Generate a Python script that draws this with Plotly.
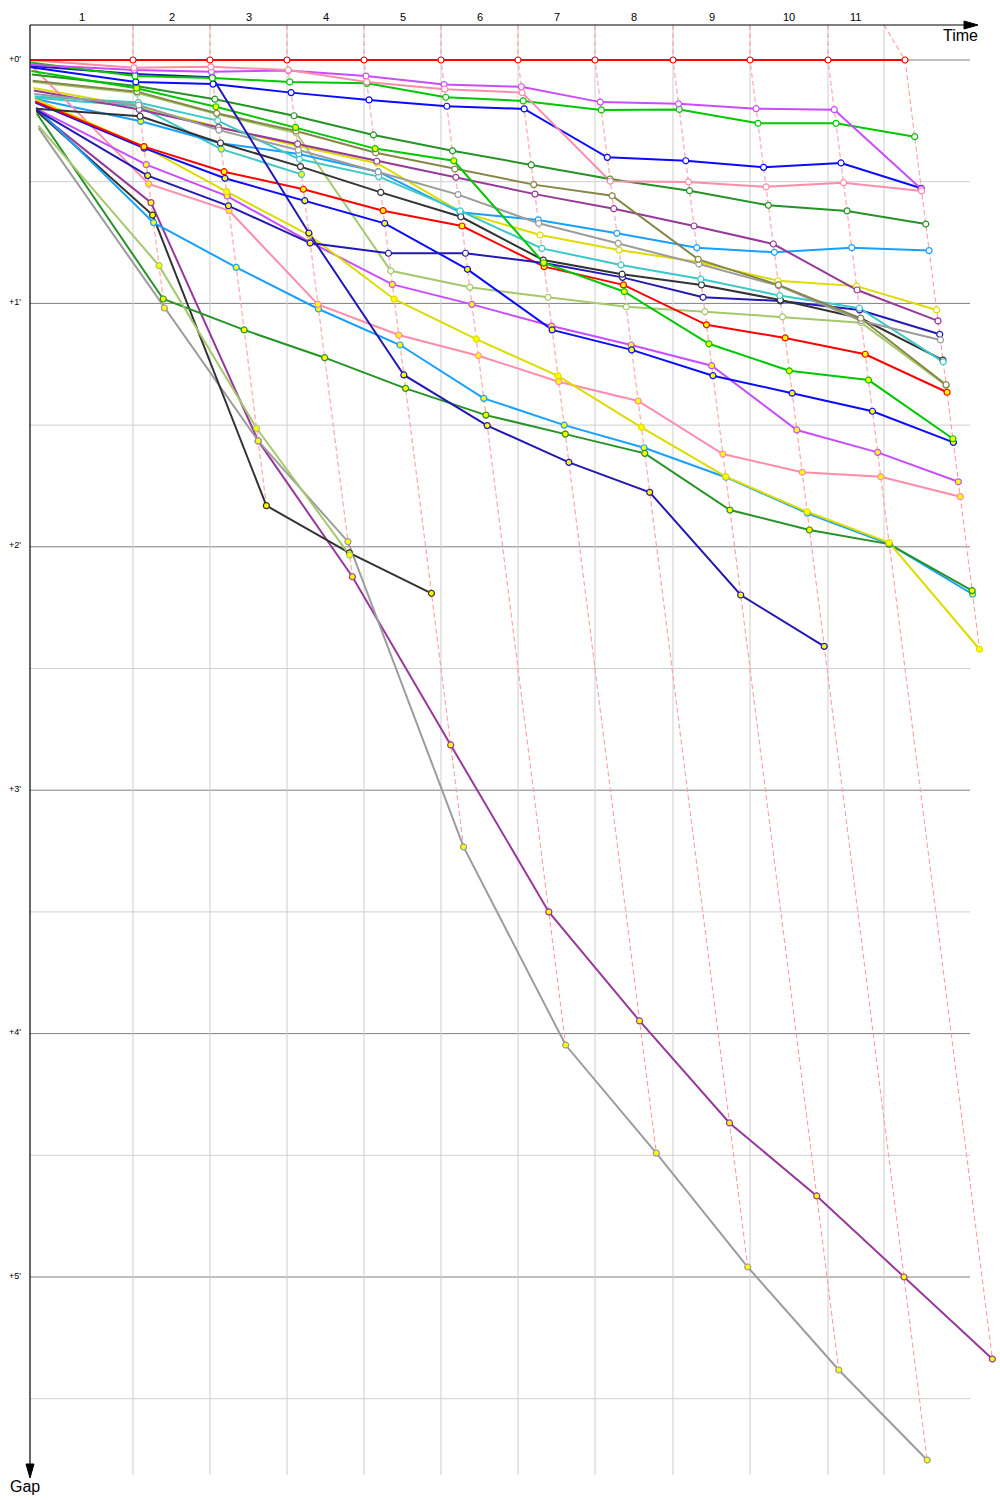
import plotly.graph_objects as go

# ---------------- data ----------------
lap_labels = ["1", "2", "3", "4", "5", "6", "7", "8", "9", "10", "11"]
# leader's elapsed time (minutes) at start and at the end of each lap
leader_lap_times = [0.0, 3.344, 5.844, 8.344, 10.844, 13.344, 15.844, 18.344, 20.877, 23.377, 25.909, 28.409]
# vertical lap lines (minutes)
lap_line_times = [3.344, 5.844, 8.344, 10.844, 13.344, 15.844, 18.344, 20.877, 23.377, 25.909, 27.727]
gap_major = [0, 1, 2, 3, 4, 5]
gap_minor = [0.5, 1.5, 2.5, 3.5, 4.5, 5.5]
gap_tick_labels = ["+0'", "+1'", "+2'", "+3'", "+4'", "+5'"]

# gaps to leader (minutes), start + each completed lap
gap_red_a = [0, 0, 0, 0, 0, 0, 0, 0, 0, 0, 0, 0]
gap_pink_a = [0.0, 0.032, 0.028, 0.041, 0.090, 0.120, 0.134, 0.498, 0.501, 0.521, 0.504, 0.538]
gap_magenta_a = [0.02, 0.041, 0.048, 0.043, 0.066, 0.101, 0.110, 0.173, 0.180, 0.200, 0.204, 0.530]
gap_green_a = [0.01, 0.066, 0.074, 0.090, 0.096, 0.153, 0.168, 0.205, 0.203, 0.260, 0.260, 0.315]
gap_blue_a = [0.03, 0.090, 0.099, 0.134, 0.164, 0.190, 0.201, 0.400, 0.414, 0.441, 0.423, 0.527]
gap_navy_a = [0.025, 0.058, 0.071, 0.711, 1.294, 1.502, 1.653, 1.776, 2.198, 2.409]
gap_green_b = [0.045, 0.116, 0.192, 0.277, 0.364, 0.414, 0.833, 0.952, 1.166, 1.277, 1.315, 1.556]
gap_olive = [0.085, 0.130, 0.219, 0.292, 0.381, 0.448, 0.512, 0.558, 0.819, 0.924, 1.061, 1.334]
gap_gray_a = [0.14, 0.185, 0.288, 0.370, 0.460, 0.553, 0.671, 0.753, 0.838, 0.927, 1.071, 1.150]
gap_cyan_a = [0.15, 0.175, 0.249, 0.408, 0.479, 0.620, 0.774, 0.842, 0.900, 0.968, 1.020, 1.240]
gap_dkgreen_a = [0.06, 0.107, 0.161, 0.229, 0.308, 0.373, 0.431, 0.489, 0.537, 0.597, 0.620, 0.674]
gap_purple_a = [0.125, 0.203, 0.277, 0.345, 0.416, 0.482, 0.551, 0.611, 0.682, 0.756, 0.945, 1.072]
gap_black_a = [0.2, 0.231, 0.341, 0.438, 0.544, 0.644, 0.822, 0.880, 0.924, 0.986, 1.061, 1.233]
gap_navy_b = [0.205, 0.475, 0.599, 0.752, 0.794, 0.794, 0.834, 0.893, 0.975, 0.990, 1.027, 1.127]
gap_red_b = [0.17, 0.356, 0.459, 0.531, 0.619, 0.682, 0.849, 0.924, 1.088, 1.142, 1.209, 1.365]
gap_blue_b = [0.175, 0.362, 0.486, 0.578, 0.671, 0.860, 1.109, 1.191, 1.297, 1.369, 1.443, 1.571]
gap_yellow_a = [0.16, 0.356, 0.541, 0.719, 0.983, 1.147, 1.298, 1.509, 1.712, 1.856, 1.983, 2.421]
gap_magenta_b = [0.2, 0.430, 0.559, 0.748, 0.922, 1.004, 1.093, 1.171, 1.256, 1.520, 1.612, 1.733]
gap_pink_b = [0.02, 0.509, 0.619, 1.004, 1.130, 1.215, 1.322, 1.401, 1.619, 1.694, 1.712, 1.794]
gap_sky_a = [0.16, 0.252, 0.342, 0.386, 0.459, 0.626, 0.657, 0.712, 0.771, 0.790, 0.771, 0.783]
gap_lime_a = [0.09, 0.136, 0.222, 0.300, 0.866, 0.934, 0.975, 1.014, 1.034, 1.055, 1.079, 1.338]
gap_lime_b = [0.27, 0.845, 1.513, 2.034]
gap_dkgreen_b = [0.22, 0.982, 1.109, 1.223, 1.349, 1.459, 1.537, 1.616, 1.849, 1.931, 1.989, 2.180]
gap_sky_b = [0.195, 0.668, 0.852, 1.023, 1.171, 1.390, 1.500, 1.593, 1.714, 1.862, 1.989, 2.195]
gap_black_b = [0.21, 0.637, 1.831, 2.025, 2.191]
gap_gray_b = [0.28, 1.019, 1.565, 1.979, 3.233, 4.047, 4.491, 4.959, 5.382, 5.752]
gap_purple_b = [0.21, 0.586, 1.565, 2.123, 2.814, 3.500, 3.948, 4.367, 4.667, 5.000, 5.337]
gap_cyan_b = [0.155, 0.19, 0.366, 0.470]
gap_yellow_b = [0.115, 0.193, 0.275, 0.353, 0.424, 0.623, 0.719, 0.781, 0.830, 0.907, 0.929, 1.027]

# marker fill per lap: w = white, y = yellow
fill_red_a = "wwwwwwwwwww"
fill_pink_a = "wwwwwwwwwww"
fill_magenta_a = "wwwwwwwwwww"
fill_green_a = "wwwwwwwwwww"
fill_blue_a = "wwwwwwwwwww"
fill_navy_a = "wwyyyyyyy"
fill_green_b = "yyyyyyyyyyy"
fill_olive = "wwwwwwwwwww"
fill_gray_a = "wwwwwwwwwww"
fill_cyan_a = "wwwwwwwwwww"
fill_dkgreen_a = "wwwwwwwwwww"
fill_purple_a = "wwwwwwwwwww"
fill_black_a = "wwwwwwwwwww"
fill_navy_b = "yyywwwwwwww"
fill_red_b = "yyyyyyyyyyy"
fill_blue_b = "yyyyyyyyyyy"
fill_yellow_a = "yyyyyyyyyyy"
fill_magenta_b = "yyyyyyyyyyy"
fill_pink_b = "yyyyyyyyyyy"
fill_sky_a = "ywwwwwwwwww"
fill_lime_a = "wwwwwwwwwww"
fill_lime_b = "yyy"
fill_dkgreen_b = "yyyyyyyyyyy"
fill_sky_b = "yyyyyyyyyyy"
fill_black_b = "yyyy"
fill_gray_b = "yyyyyyyyy"
fill_purple_b = "yyyyyyyyyy"
fill_cyan_b = "wyy"
fill_yellow_b = "wwwwwwwwwww"

RED, PINK, MAGENTA, GREEN, BLUE = "#ff0000", "#ff8cab", "#c94cff", "#00c800", "#0a0aff"
NAVY, DKGREEN, OLIVE, PURPLE, GRAY = "#2418b4", "#259325", "#868646", "#983899", "#9c9c9c"
BLACK, CYAN, SKY, YELLOW, LIME = "#333333", "#3cc8c8", "#17a0ff", "#dcdc00", "#a6c86c"

series = [
    (gap_red_a, fill_red_a, RED),
    (gap_pink_a, fill_pink_a, PINK),
    (gap_magenta_a, fill_magenta_a, MAGENTA),
    (gap_green_a, fill_green_a, GREEN),
    (gap_blue_a, fill_blue_a, BLUE),
    (gap_navy_a, fill_navy_a, NAVY),
    (gap_green_b, fill_green_b, GREEN),
    (gap_olive, fill_olive, OLIVE),
    (gap_gray_a, fill_gray_a, GRAY),
    (gap_cyan_a, fill_cyan_a, CYAN),
    (gap_dkgreen_a, fill_dkgreen_a, DKGREEN),
    (gap_purple_a, fill_purple_a, PURPLE),
    (gap_black_a, fill_black_a, BLACK),
    (gap_navy_b, fill_navy_b, NAVY),
    (gap_red_b, fill_red_b, RED),
    (gap_blue_b, fill_blue_b, BLUE),
    (gap_yellow_a, fill_yellow_a, YELLOW),
    (gap_magenta_b, fill_magenta_b, MAGENTA),
    (gap_pink_b, fill_pink_b, PINK),
    (gap_sky_a, fill_sky_a, SKY),
    (gap_lime_a, fill_lime_a, LIME),
    (gap_lime_b, fill_lime_b, LIME),
    (gap_dkgreen_b, fill_dkgreen_b, DKGREEN),
    (gap_sky_b, fill_sky_b, SKY),
    (gap_black_b, fill_black_b, BLACK),
    (gap_gray_b, fill_gray_b, GRAY),
    (gap_purple_b, fill_purple_b, PURPLE),
    (gap_cyan_b, fill_cyan_b, CYAN),
    (gap_yellow_b, fill_yellow_b, YELLOW),
]

# ---------------- geometry of the canvas ----------------
PXM_X = 30.8      # pixels per minute horizontally
PXM_Y = 243.4     # pixels per minute vertically
X0, Y0 = 30, 60   # pixel position of time 0 / gap 0
W, H = 1000, 1500


def tx(px):
    return (px - X0) / PXM_X


def gy(py):
    return (py - Y0) / PXM_Y


TOP, BOTTOM = gy(25), gy(1475)
FONT = "Liberation Sans"

fig = go.Figure()
shapes = []

# grid
for g in gap_minor:
    shapes.append(dict(type="line", x0=tx(30), x1=tx(970), y0=g, y1=g,
                       line=dict(color="#cfcfcf", width=1), layer="below"))
for g in gap_major:
    shapes.append(dict(type="line", x0=tx(30), x1=tx(970), y0=g, y1=g,
                       line=dict(color="#7f7f7f", width=1), layer="below"))
for t in lap_line_times:
    shapes.append(dict(type="line", x0=t, x1=t, y0=TOP, y1=BOTTOM,
                       line=dict(color="#cdcdcd", width=1), layer="below"))

# lap dashed connectors
for k in range(1, len(leader_lap_times)):
    pts = []
    for gaps, _, _ in series:
        if len(gaps) > k:
            pts.append((gaps[k], leader_lap_times[k] + gaps[k]))
    pts.sort()
    xs = [lap_line_times[k - 1]] + [p[1] for p in pts]
    ys = [TOP] + [p[0] for p in pts]
    fig.add_trace(go.Scatter(x=xs, y=ys, mode="lines", hoverinfo="skip",
                             line=dict(color="#ff9f9f", width=1.1, dash="5px,3px")))

# rider lines
for gaps, fills, col in reversed(series):
    xs = [leader_lap_times[i] + g for i, g in enumerate(gaps)]
    fig.add_trace(go.Scatter(x=xs, y=gaps, mode="lines", hoverinfo="skip",
                             line=dict(color=col, width=2)))
# markers
for gaps, fills, col in reversed(series):
    xs = [leader_lap_times[i] + g for i, g in enumerate(gaps)][1:]
    fc = ["#ffff00" if f == "y" else "#ffffff" for f in fills]
    fig.add_trace(go.Scatter(x=xs, y=gaps[1:], mode="markers", hoverinfo="skip",
                             marker=dict(size=6, color=fc, line=dict(color=col, width=1.2))))

# axes with arrows
shapes.append(dict(type="line", x0=tx(30), x1=tx(970), y0=TOP, y1=TOP,
                   line=dict(color="black", width=1.2)))
shapes.append(dict(type="path",
                   path=f"M {tx(978)},{gy(25)} L {tx(964)},{gy(21)} L {tx(964)},{gy(29)} Z",
                   fillcolor="black", line=dict(color="black", width=1)))
shapes.append(dict(type="line", x0=tx(30), x1=tx(30), y0=TOP, y1=gy(1468),
                   line=dict(color="black", width=1.2)))
shapes.append(dict(type="path",
                   path=f"M {tx(30)},{gy(1478)} L {tx(26)},{gy(1464)} L {tx(34)},{gy(1464)} Z",
                   fillcolor="black", line=dict(color="black", width=1)))

annotations = []
edges = [0.0] + lap_line_times
for i, lab in enumerate(lap_labels):
    annotations.append(dict(x=(edges[i] + edges[i + 1]) / 2, y=gy(17), text=lab, showarrow=False,
                            font=dict(family=FONT, size=11, color="black")))
for g, lab in zip(gap_major, gap_tick_labels):
    annotations.append(dict(x=tx(23), y=g - 1.5 / PXM_Y, text=lab, showarrow=False, xanchor="right",
                            font=dict(family=FONT, size=9, color="black")))
annotations.append(dict(x=tx(960), y=gy(35), text="Time", showarrow=False,
                        font=dict(family=FONT, size=16, color="black")))
annotations.append(dict(x=tx(25), y=gy(1486), text="Gap", showarrow=False,
                        font=dict(family=FONT, size=16, color="black")))

fig.update_layout(
    width=W, height=H, margin=dict(l=0, r=0, t=0, b=0),
    paper_bgcolor="white", plot_bgcolor="white", showlegend=False,
    xaxis=dict(range=[tx(0), tx(W)], visible=False, fixedrange=True),
    yaxis=dict(range=[gy(H), gy(0)], visible=False, fixedrange=True),
    shapes=shapes, annotations=annotations,
)

fig.write_html("out.html", config={"displayModeBar": False, "staticPlot": True},
               post_script="document.body.style.margin='0';")
